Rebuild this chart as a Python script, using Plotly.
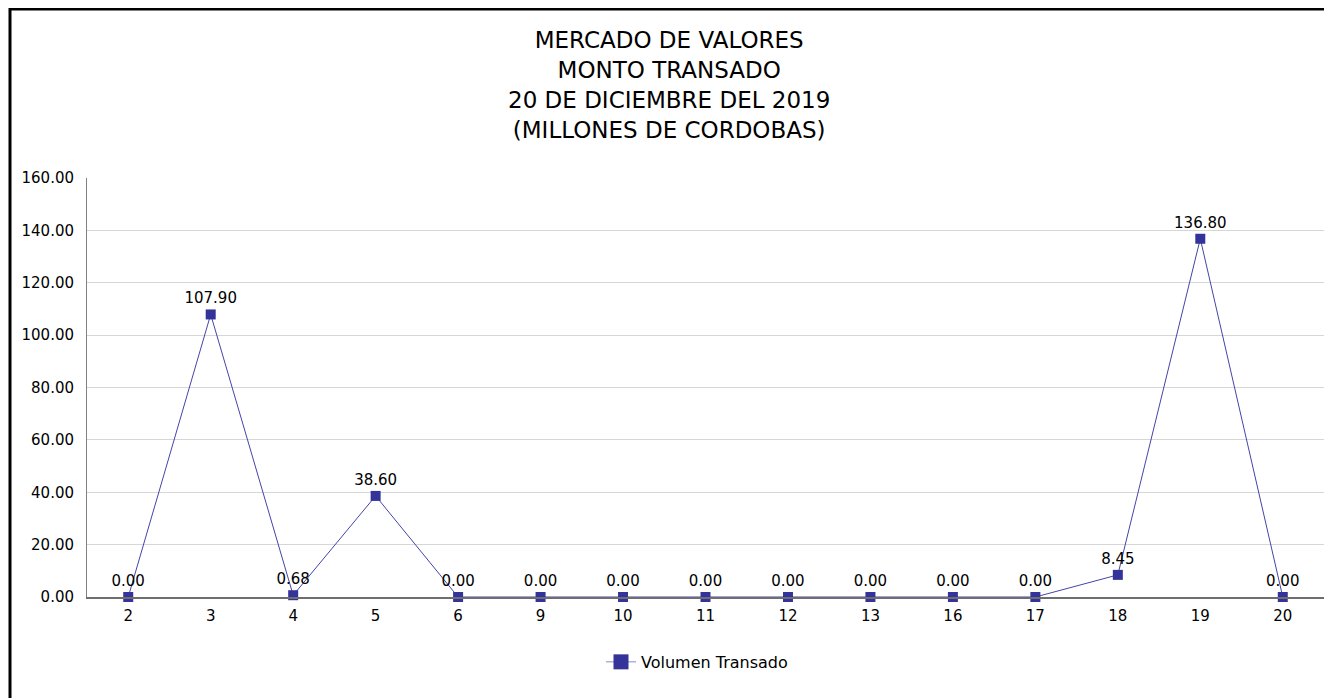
import plotly.graph_objects as go

categories = ["2", "3", "4", "5", "6", "9", "10", "11", "12", "13", "16", "17", "18", "19", "20"]
values = [0.00, 107.90, 0.68, 38.60, 0.00, 0.00, 0.00, 0.00, 0.00, 0.00, 0.00, 0.00, 8.45, 136.80, 0.00]
series_name = "Volumen Transado"
title_lines = ["MERCADO DE VALORES", "MONTO TRANSADO", "20 DE DICIEMBRE DEL 2019", "(MILLONES DE CORDOBAS)"]
y_ticks = [0, 20, 40, 60, 80, 100, 120, 140, 160]

FONT = "DejaVu Sans"
COLOR = "#333399"

W, H = 1324, 690
L, R, T, B = 79, 8, 170, 101
PW = W - L - R
PH = H - T - B

fig = go.Figure()
fig.add_trace(go.Scatter(
    x=categories, y=values, name=series_name,
    mode="lines+markers+text",
    line=dict(color="#4444a8", width=1),
    marker=dict(symbol="square", size=10, color=COLOR),
    text=[f"{v:.2f}" for v in values],
    textposition="top center",
    textfont=dict(family=FONT, size=15, color="#000000"),
    cliponaxis=False,
    showlegend=False,
))
# legend proxy with larger marker
fig.add_trace(go.Scatter(
    x=[None], y=[None], name=series_name, mode="lines+markers",
    line=dict(color="#8888cc", width=1),
    marker=dict(symbol="square", size=15, color=COLOR),
    showlegend=True,
))

fig.add_annotation(
    text="<br>".join(title_lines),
    xref="paper", yref="paper",
    x=(661 - L) / PW, y=(T + PH - 17) / PH,
    xanchor="center", yanchor="top", showarrow=False,
    font=dict(family=FONT, size=23, color="#000000"),
)

fig.update_layout(
    width=W, height=H,
    margin=dict(l=L, r=R, t=T, b=B),
    paper_bgcolor="white", plot_bgcolor="white",
    font=dict(family=FONT, size=15, color="#000000"),
    showlegend=True,
    legend=dict(
        orientation="h", x=(689 - L) / PW, xanchor="center",
        y=-0.155, yanchor="middle",
        font=dict(family=FONT, size=16, color="#000000"),
    ),
    xaxis=dict(
        type="category", showgrid=False, showline=True,
        linecolor="#6e6e6e", linewidth=2, ticks="",
        ticklabelstandoff=4,
        tickfont=dict(family=FONT, size=15), range=[-0.5, len(categories) - 0.5],
    ),
    yaxis=dict(
        range=[0, 160], tickvals=y_ticks, ticktext=[f"{t:.2f}" for t in y_ticks],
        showgrid=True, gridcolor="#d6d6d6", gridwidth=1,
        showline=True, linecolor="#808080", linewidth=1,
        zeroline=False, ticks="", ticklabelstandoff=9,
        tickfont=dict(family=FONT, size=15),
    ),
    shapes=[dict(
        type="rect", xref="paper", yref="paper",
        x0=(2 - L) / PW, x1=1.2, y0=-0.5, y1=(T + PH - 1) / PH,
        line=dict(color="#000000", width=3), fillcolor="rgba(0,0,0,0)", layer="above",
    )],
)

fig.write_html("out.html")
